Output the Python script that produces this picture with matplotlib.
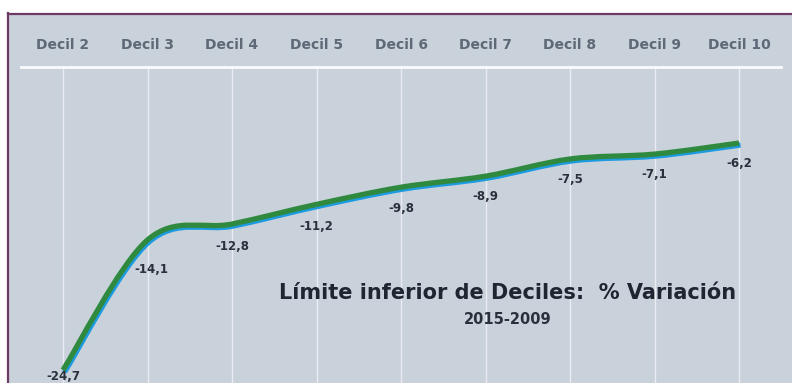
import matplotlib
matplotlib.use("Agg")
import matplotlib.pyplot as plt
from matplotlib.path import Path
from matplotlib.patches import PathPatch, Rectangle
from matplotlib.lines import Line2D
import matplotlib.transforms as mtransforms

# Data
categories = ["Decil 2", "Decil 3", "Decil 4", "Decil 5", "Decil 6",
              "Decil 7", "Decil 8", "Decil 9", "Decil 10"]
variation = [-24.7, -14.1, -12.8, -11.2, -9.8, -8.9, -7.5, -7.1, -6.2]
value_labels = ["-24,7", "-14,1", "-12,8", "-11,2", "-9,8", "-8,9", "-7,5", "-7,1", "-6,2"]
title = "Límite inferior de Deciles:  % Variación"
subtitle = "2015-2009"

W, H = 792, 383
fig = plt.figure(figsize=(W / 100, H / 100), dpi=100)
fig.patch.set_facecolor("white")
font = "DejaVu Sans"

# Panel background and frame
panel_color = "#c9d1db"
frame_color = "#6c3a62"
fig.patches.append(Rectangle((8 / W, 0), 1 - 8 / W, (H - 13) / H,
                             transform=fig.transFigure, facecolor=panel_color,
                             edgecolor="none", zorder=-2))
fig.lines.append(Line2D([7.5 / W, 7.5 / W], [0, (H - 13) / H], transform=fig.transFigure,
                        color=frame_color, lw=1.6, zorder=-1))
fig.lines.append(Line2D([7.5 / W, 1], [(H - 13.5) / H, (H - 13.5) / H], transform=fig.transFigure,
                        color=frame_color, lw=1.6, zorder=-1))

ax = fig.add_axes([8 / W, 0, 1 - 8 / W, (H - 13) / H])
ax.set_facecolor("none")
ax.set_xlim(-0.651, 8.627)
ax.set_ylim(-25.76, 4.4)
for s in ax.spines.values():
    s.set_visible(False)
ax.set_xticks([])
ax.set_yticks([])

n = len(categories)
xs = list(range(n))

# Gridlines and zero axis
for x in xs:
    ax.plot([x, x], [-30, 0], color="white", lw=1.0, alpha=0.6, zorder=1)
ax.plot([-0.5, n - 0.5], [0, 0], color="white", lw=2.0, alpha=0.9, zorder=2)

# Category labels above the zero line
for x, c in zip(xs, categories):
    ax.annotate(c, (x, 0), xytext=(0, 16), textcoords="offset points",
                ha="center", va="center", fontsize=10, fontweight="bold",
                family=font, color="#5e6876")

# Smooth curve (Catmull-Rom style Bezier segments)
pts = list(zip(xs, variation))
verts = [pts[0]]
codes = [Path.MOVETO]
for i in range(n - 1):
    p0 = pts[i - 1] if i > 0 else pts[i]
    p1 = pts[i]
    p2 = pts[i + 1]
    p3 = pts[i + 2] if i + 2 < n else pts[i + 1]
    c1 = (p1[0] + (p2[0] - p0[0]) / 6, p1[1] + (p2[1] - p0[1]) / 6)
    c2 = (p2[0] - (p3[0] - p1[0]) / 6, p2[1] - (p3[1] - p1[1]) / 6)
    verts += [c1, c2, p2]
    codes += [Path.CURVE4] * 3
curve = Path(verts, codes)

shadow_tr = ax.transData + mtransforms.ScaledTranslation(1.5 / 100, -2 / 100, fig.dpi_scale_trans)
ax.add_patch(PathPatch(curve, facecolor="none", edgecolor="#1d9be0", lw=3.8,
                       capstyle="butt", transform=shadow_tr, zorder=3))
ax.add_patch(PathPatch(curve, facecolor="none", edgecolor="#2f8a3f", lw=3.8,
                       capstyle="butt", zorder=4))

# Value labels below each point
offsets = [(0, -4.5), (3, -21), (0, -16), (0, -16), (0, -15), (0, -15), (0, -15), (0, -15), (0, -15)]
for x, v, lab, off in zip(xs, variation, value_labels, offsets):
    ax.annotate(lab, (x, v), xytext=off, textcoords="offset points",
                ha="center", va="center", fontsize=8.5, fontweight="bold",
                family=font, color="#2a313c")

# Title block
ax.text((508 - 8) / (W - 8), 1 - (293 - 13) / (H - 13), title,
        transform=ax.transAxes, ha="center", va="center", fontsize=15,
        fontweight="bold", family=font, color="#1f2632")
ax.text((508 - 8) / (W - 8), 1 - (319 - 13) / (H - 13), subtitle,
        transform=ax.transAxes, ha="center", va="center", fontsize=10.5,
        fontweight="bold", family=font, color="#2a313c")

fig.savefig("out.png", dpi=100, facecolor="white")
